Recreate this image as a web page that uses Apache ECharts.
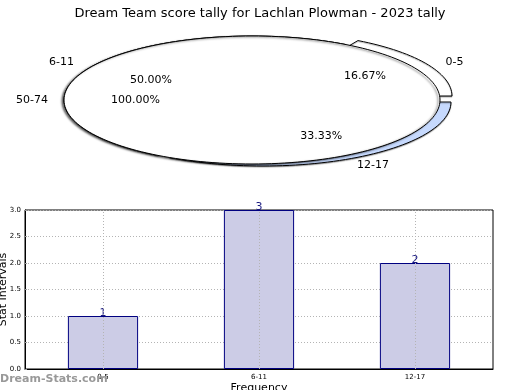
<!DOCTYPE html>
<html>
<head>
<meta charset="utf-8">
<script src="https://cdn.jsdelivr.net/npm/echarts@6/dist/echarts.min.js"></script>
<style>html,body{margin:0;padding:0;background:#fff}#c{width:520px;height:390px}</style>
</head>
<body>
<div id="c"></div>
<script>
// ---- data ----
var titleText = 'Dream Team score tally for Lachlan Plowman - 2023 tally';
var pieCategories = ['0-5', '6-11', '12-17', '50-74'];
var piePercents = [16.67, 50.00, 33.33, 100.00];
var barCategories = ['0-5', '6-11', '12-17'];
var barValues = [1, 3, 2];

// ---- styling (not data) ----
var pieColors = ['#ffffff', '#ffffff', '#c6d9fd', '#ffffff'];
var pieExplode = [[12, -4], [0, 0], [11, 2], [0, 0]];
var PIE = { cx: 252, cy: 100, rx: 188, ry: 64 };

var starts = [], ends = [];
(function () {
  var acc = 0;
  for (var i = 0; i < piePercents.length; i++) {
    starts.push(acc / 100 * 360);
    acc += piePercents[i];
    ends.push(acc / 100 * 360);
  }
})();

function ellPt(deg, f, off) {
  var a = deg * Math.PI / 180;
  return [PIE.cx + off[0] + f * PIE.rx * Math.cos(a), PIE.cy + off[1] - f * PIE.ry * Math.sin(a)];
}

function renderPie(params, api) {
  var i = params.dataIndex;
  var s = starts[i], e = ends[i], off = pieExplode[i];
  var full = (e - s) >= 359.99;
  var pts = [];
  if (!full) pts.push([PIE.cx + off[0], PIE.cy + off[1]]);
  var n = Math.max(8, Math.ceil((e - s) / 2));
  for (var k = 0; k <= n; k++) pts.push(ellPt(s + (e - s) * k / n, 1, off));
  var mid = (s + e) / 2;
  var inner = ellPt(mid, 0.62, off);
  var outer = ellPt(mid, 1.17, [off[0], 0]);
  return {
    type: 'group',
    children: [
      {
        type: 'polygon', z2: full ? 10 : i + 1,
        shape: { points: pts },
        style: {
          fill: pieColors[i], stroke: '#000', lineWidth: 1,
          shadowColor: full ? 'rgba(0,0,0,0.55)' : 'rgba(0,0,0,0.3)',
          shadowBlur: full ? 2 : 1, shadowOffsetX: full ? -2 : 0, shadowOffsetY: 1
        }
      },
      {
        type: 'text', z2: 20,
        style: { text: piePercents[i].toFixed(2) + '%', x: inner[0], y: inner[1], align: 'center', verticalAlign: 'middle',
          fill: '#000', font: '11px "DejaVu Sans"' }
      },
      {
        type: 'text', z2: 20,
        style: { text: pieCategories[i], x: outer[0], y: outer[1], align: 'center', verticalAlign: 'middle',
          fill: '#000', font: '11px "DejaVu Sans"' }
      }
    ]
  };
}

var gridLine = { color: '#b4b4b4', type: [1, 2], width: 1 };

var chart = echarts.init(document.getElementById('c'), null, { renderer: 'canvas' });
chart.setOption({
  animation: false,
  backgroundColor: '#fff',
  title: {
    text: titleText, left: 'center', top: 2,
    textStyle: { fontFamily: 'DejaVu Sans', fontSize: 13, fontWeight: 'normal', color: '#000' }
  },
  graphic: [{
    type: 'text', left: 0, top: 374, z: 100,
    style: { text: 'Dream-Stats.com', fill: '#999', font: 'bold 11px "DejaVu Sans"' }
  }],
  grid: {
    left: 25, right: 27, top: 210, bottom: 21,
    outerBoundsMode: 'none', containLabel: false,
    show: true, borderColor: '#000', borderWidth: 1, backgroundColor: '#fff'
  },
  xAxis: {
    type: 'category', data: barCategories,
    name: 'Frequency', nameLocation: 'middle', nameGap: 14, nameMoveOverlap: false,
    nameTextStyle: { fontFamily: 'DejaVu Sans', fontSize: 11, color: '#000' },
    axisLine: { lineStyle: { color: '#000' } },
    axisTick: { show: false },
    axisLabel: { fontFamily: 'DejaVu Sans', fontSize: 7, color: '#000', margin: 5 },
    splitLine: { show: false }
  },
  yAxis: {
    type: 'value', min: 0, max: 3, interval: 0.5,
    name: 'Stat Intervals', nameLocation: 'middle', nameGap: 16, nameRotate: 90, nameMoveOverlap: false,
    nameTextStyle: { fontFamily: 'DejaVu Sans', fontSize: 11, color: '#000' },
    axisLine: { show: true, lineStyle: { color: '#000' } },
    axisTick: { show: true, inside: true, length: 2, lineStyle: { color: '#999' } },
    axisLabel: { fontFamily: 'DejaVu Sans', fontSize: 7, color: '#000', margin: 4,
      formatter: function (v) { return v.toFixed(1); } },
    splitLine: { show: true, lineStyle: gridLine }
  },
  series: [
    {
      type: 'bar', data: barValues, barWidth: '45%',
      itemStyle: { color: '#ccccE6', borderColor: '#000080', borderWidth: 1 },
      label: { show: true, position: 'top', distance: -3, color: '#1a1a80',
        fontFamily: 'DejaVu Sans', fontSize: 11 },
      markLine: {
        silent: true, symbol: 'none', label: { show: false },
        lineStyle: gridLine,
        data: barCategories.map(function (c) { return { xAxis: c }; })
      }
    },
    {
      type: 'custom', coordinateSystem: 'none', renderItem: renderPie,
      data: pieCategories.map(function (c, i) { return [i]; }), z: 10, silent: true
    }
  ]
});
</script>
</body>
</html>
